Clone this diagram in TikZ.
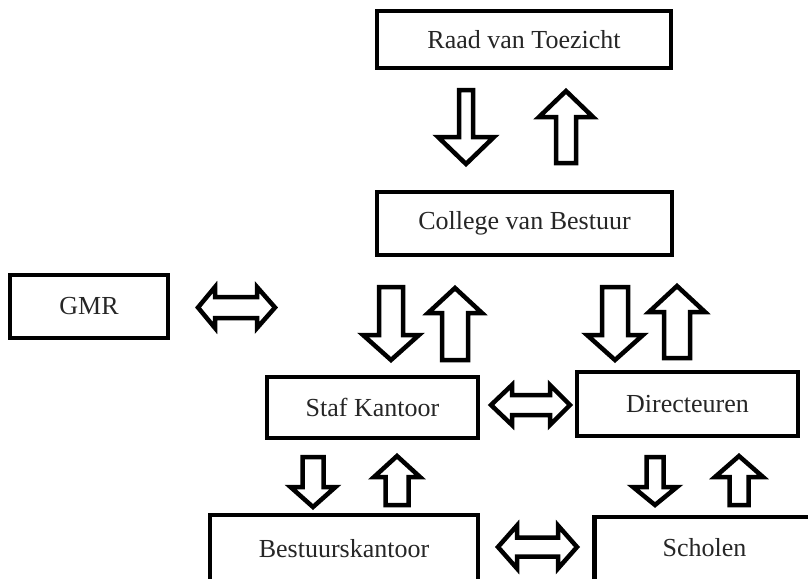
\documentclass[tikz,border=0pt]{standalone}
\usepackage{fontspec}
\setmainfont{Liberation Serif}
% vertical block arrow: cx, start y, head-base y, tip y, shaft half, head half
\newcommand{\vblockarrow}[6]{\draw[blockarrow] ({#1-#5},#2) -- ({#1+#5},#2) -- ({#1+#5},#3) -- ({#1+#6},#3) -- (#1,#4) -- ({#1-#6},#3) -- ({#1-#5},#3) -- cycle;}
% horizontal double block arrow: left tip x, right tip x, cy, shaft half, head half, left base x, right base x
\newcommand{\hblockarrow}[7]{\draw[blockarrow] (#1,#3) -- (#6,{#3-#5}) -- (#6,{#3-#4}) -- (#7,{#3-#4}) -- (#7,{#3-#5}) -- (#2,#3) -- (#7,{#3+#5}) -- (#7,{#3+#4}) -- (#6,{#3+#4}) -- (#6,{#3+#5}) -- cycle;}
\begin{document}
\begin{tikzpicture}[x=1pt,y=-1pt,
  box/.style={draw=black, line width=4.5pt, fill=white, inner sep=0pt, text=black!85,
    font=\fontsize{26}{30}\selectfont},
  blockarrow/.style={draw=black, line width=4.5pt, fill=white, line join=miter}]
\useasboundingbox (0,0) rectangle (808,578);
\clip (0,0) rectangle (808,578);
\fill[white] (0,0) rectangle (808,578);

\node[box, minimum width=294pt, minimum height=57pt] (rvt) at (524,39.5) {Raad van Toezicht};
\node[box, minimum width=295pt, minimum height=63pt] (cvb) at (524.5,223.5) {College van Bestuur};
\node[box, minimum width=158pt, minimum height=63pt] (gmr) at (89,306.5) {GMR};
\node[box, minimum width=211pt, minimum height=61pt] (staf) at (372.5,407.5) {Staf Kantoor};
\node[box, minimum width=221pt, minimum height=64pt] (dir) at (687.5,404) {Directeuren};
\node[box, minimum width=268pt, minimum height=67pt] (best) at (344,548.5) {Bestuurskantoor};
\node[box, minimum width=220pt, minimum height=65pt, anchor=west] (sch) at (592,549.5) {};
\node[font=\fontsize{26}{30}\selectfont, text=black!85] (schtext) at (704.5,548) {Scholen};

% Raad <-> College
\vblockarrow{466}{90}{137}{164}{7}{28}
\vblockarrow{566}{163}{117}{91}{10}{27}
% College <-> Staf
\vblockarrow{391}{287}{335}{360}{12}{28}
\vblockarrow{455}{360}{313}{288}{13}{27}
% College <-> Directeuren
\vblockarrow{615}{287}{335}{360}{13}{28}
\vblockarrow{677}{358}{312}{286}{13}{28}
% Staf <-> Bestuurskantoor
\vblockarrow{313}{457}{487}{507}{10.5}{22.5}
\vblockarrow{397}{505}{477}{456}{11.5}{23}
% Directeuren <-> Scholen
\vblockarrow{655}{457}{487}{505}{8.5}{22}
\vblockarrow{739}{505}{477}{456}{9.5}{24}

% double arrows
\hblockarrow{198}{275}{307.5}{10.5}{20.5}{215}{257}
\hblockarrow{491}{570}{405}{10}{20}{512}{550}
\hblockarrow{498}{577}{547}{9.5}{21.5}{517}{558}
\end{tikzpicture}
\end{document}
